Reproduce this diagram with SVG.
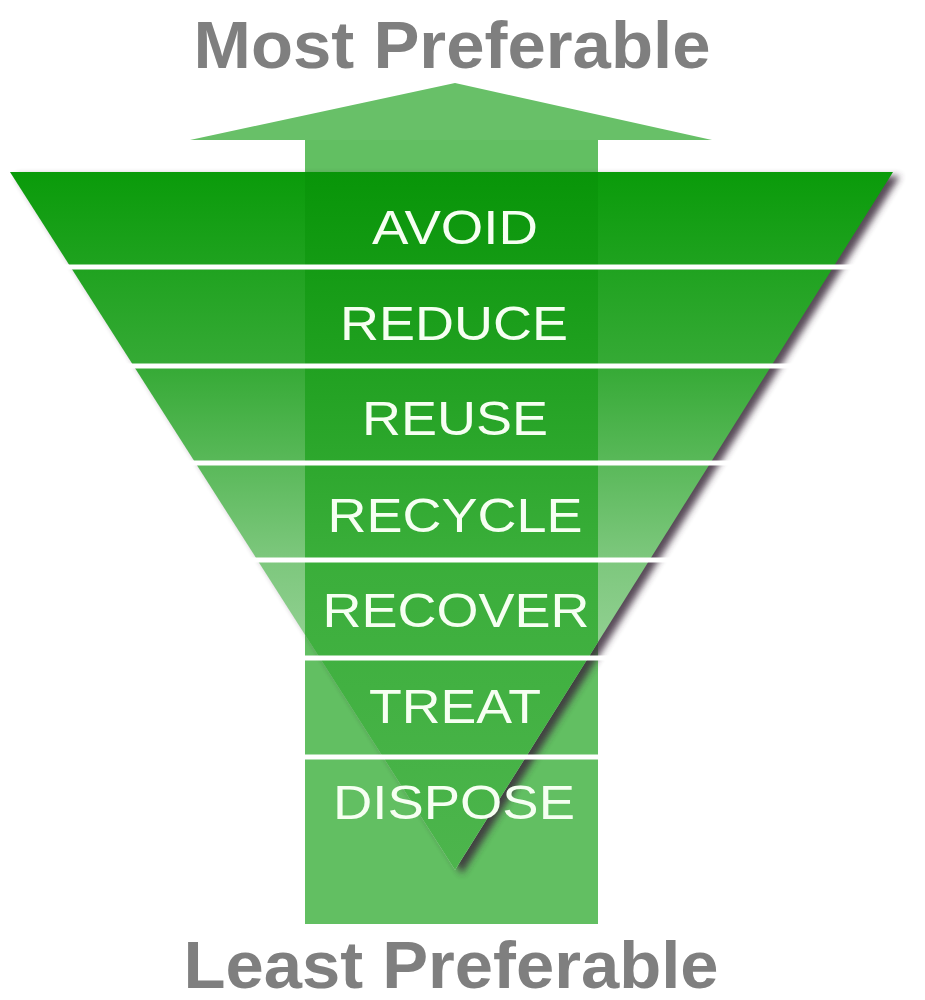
<svg xmlns="http://www.w3.org/2000/svg" width="925" height="1000" viewBox="0 0 925 1000">
<style>
.title{font-family:"Liberation Sans",Arial,sans-serif;font-weight:bold;font-size:66px;fill:#7f7f7f;text-anchor:middle}
.lbl{font-family:"Liberation Sans",Arial,sans-serif;font-size:49px;fill:#f6fff2;text-anchor:middle}
.sep{stroke:#ffffff;stroke-width:5;fill:none}
</style>
<defs>
<linearGradient id="funnelGrad" x1="0" y1="172" x2="0" y2="870" gradientUnits="userSpaceOnUse">
<stop offset="0" stop-color="#0a9b0a"/>
<stop offset="0.28" stop-color="#36aa36"/>
<stop offset="0.55" stop-color="#7cc77c"/>
<stop offset="0.8" stop-color="#a6d9a6"/>
<stop offset="1" stop-color="#c8ebc8"/>
</linearGradient>
<linearGradient id="shaftGrad" x1="0" y1="172" x2="0" y2="870" gradientUnits="userSpaceOnUse">
<stop offset="0" stop-color="#089508"/>
<stop offset="0.28" stop-color="#21a121"/>
<stop offset="0.55" stop-color="#3aae3a"/>
<stop offset="1" stop-color="#4db54d"/>
</linearGradient>
<clipPath id="funnelClip">
<polygon points="10,172 893,172 455,870"/>
</clipPath>
<filter id="blur" x="-20%" y="-20%" width="140%" height="140%">
<feGaussianBlur stdDeviation="3.5"/>
</filter>
</defs>

<g id="title-top"><text class="title" x="452" y="68" textLength="517" lengthAdjust="spacingAndGlyphs">Most Preferable</text></g>

<g id="arrow">
<polygon points="190,140 455,83 712,140" fill="#68c068"/>
<rect x="305" y="140" width="293" height="784" fill="#62bf62"/>
</g>

<g id="funnel">
<polygon points="17,176 900,176 462,874" fill="#3a2a3a" opacity="0.85" filter="url(#blur)"/>
<polygon points="10,172 893,172 455,870" fill="url(#funnelGrad)"/>
<rect x="305" y="172" width="293" height="700" fill="url(#shaftGrad)" clip-path="url(#funnelClip)"/>
</g>

<g id="connectors">
<line class="sep" x1="62" y1="267" x2="858" y2="267"/>
<line class="sep" x1="124" y1="366" x2="800" y2="366"/>
<line class="sep" x1="188" y1="463" x2="738" y2="463"/>
<line class="sep" x1="250" y1="560" x2="680" y2="560"/>
<line class="sep" x1="293" y1="658" x2="622" y2="658"/>
<line class="sep" x1="293" y1="757" x2="600" y2="757"/>
</g>

<g id="avoid"><text class="lbl" x="455" y="244" textLength="166" lengthAdjust="spacingAndGlyphs">AVOID</text></g>
<g id="reduce"><text class="lbl" x="454" y="340" textLength="228" lengthAdjust="spacingAndGlyphs">REDUCE</text></g>
<g id="reuse"><text class="lbl" x="455" y="435" textLength="186" lengthAdjust="spacingAndGlyphs">REUSE</text></g>
<g id="recycle"><text class="lbl" x="455" y="532" textLength="255" lengthAdjust="spacingAndGlyphs">RECYCLE</text></g>
<g id="recover"><text class="lbl" x="456" y="627" textLength="267" lengthAdjust="spacingAndGlyphs">RECOVER</text></g>
<g id="treat"><text class="lbl" x="455" y="723" textLength="172" lengthAdjust="spacingAndGlyphs">TREAT</text></g>
<g id="dispose"><text class="lbl" x="454" y="819" textLength="242" lengthAdjust="spacingAndGlyphs">DISPOSE</text></g>

<g id="title-bottom"><text class="title" x="451" y="988" textLength="535" lengthAdjust="spacingAndGlyphs">Least Preferable</text></g>
</svg>
